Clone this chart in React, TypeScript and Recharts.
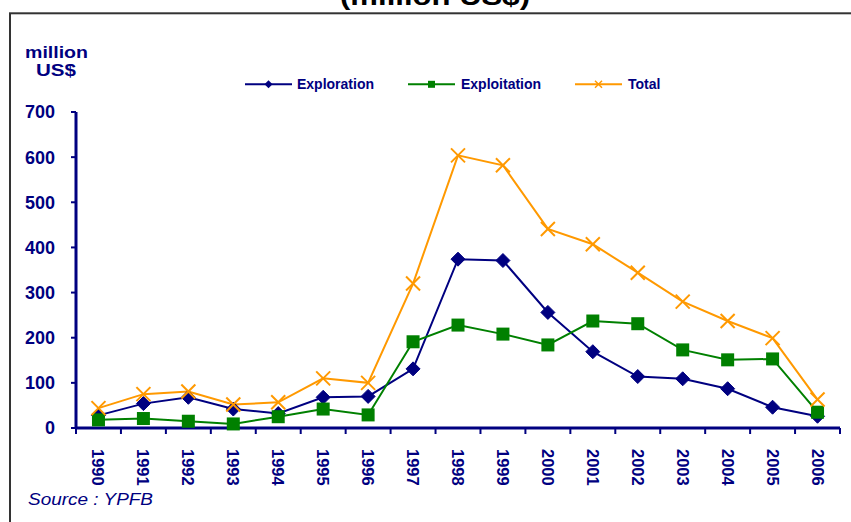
import React from 'react';
import { LineChart, Line, XAxis, YAxis } from 'recharts';

const years = ['1990', '1991', '1992', '1993', '1994', '1995', '1996', '1997', '1998', '1999', '2000', '2001', '2002', '2003', '2004', '2005', '2006'];
const exploration = [28, 54, 68, 42, 32, 68, 70, 131, 374, 371, 256, 169, 114, 109, 87, 46, 26];
const exploitation = [18, 21, 15, 9, 25, 42, 29, 191, 228, 208, 184, 237, 231, 173, 151, 153, 35];
const total = [44, 75, 81, 52, 57, 110, 100, 320, 604, 582, 441, 407, 344, 280, 237, 199, 63];
const yTicks = [0, 100, 200, 300, 400, 500, 600, 700];

const NAVY = '#000080';
const GREEN = '#008000';
const ORANGE = '#FF9900';
const FONT = "'Liberation Sans', Arial, Helvetica, sans-serif";

const data = years.map((year, i) => ({
  idx: i,
  year,
  exploration: exploration[i],
  exploitation: exploitation[i],
  total: total[i],
}));
const boundaryTicks = years.map((_, i) => i - 0.5).concat([years.length - 0.5]);
const labelTicks = years.map((_, i) => i);

const Diamond = (props: any) => {
  const { cx, cy, index } = props;
  if (cx == null || cy == null) return <g key={index} />;
  const r = 7;
  return (
    <polygon
      key={index}
      points={`${cx},${cy - r} ${cx + r},${cy} ${cx},${cy + r} ${cx - r},${cy}`}
      fill={NAVY}
      stroke={NAVY}
      strokeWidth={1}
    />
  );
};

const Square = (props: any) => {
  const { cx, cy, index } = props;
  if (cx == null || cy == null) return <g key={index} />;
  const r = 6.5;
  return <rect key={index} x={cx - r} y={cy - r} width={r * 2} height={r * 2} fill={GREEN} />;
};

const Cross = (props: any) => {
  const { cx, cy, index } = props;
  if (cx == null || cy == null) return <g key={index} />;
  const r = 7;
  return (
    <g key={index}>
      <line x1={cx - r} y1={cy - r} x2={cx + r} y2={cy + r} stroke={ORANGE} strokeWidth={2} />
      <line x1={cx - r} y1={cy + r} x2={cx + r} y2={cy - r} stroke={ORANGE} strokeWidth={2} />
    </g>
  );
};

const series = [
  { key: 'exploration', name: 'Exploration', color: NAVY, dot: Diamond, legendX: 245, textX: 297 },
  { key: 'exploitation', name: 'Exploitation', color: GREEN, dot: Square, legendX: 408, textX: 461 },
  { key: 'total', name: 'Total', color: ORANGE, dot: Cross, legendX: 575, textX: 628 },
];

const EmptyTick = () => <g />;

const YearTick = (props: any) => {
  const { x, y, payload } = props;
  const label = years[payload.value];
  if (label == null) return <g />;
  return (
    <text
      transform={`translate(${x - 6}, ${y + 1}) rotate(90)`}
      fontSize={16.5}
      fontWeight="bold"
      fontFamily={FONT}
      fill={NAVY}
      textAnchor="start"
    >
      {label}
    </text>
  );
};

const LegendMarker = ({ kind, x, y, color }: { kind: string; x: number; y: number; color: string }) => {
  if (kind === 'exploration') {
    const r = 4;
    return <polygon points={`${x},${y - r} ${x + r},${y} ${x},${y + r} ${x - r},${y}`} fill={color} />;
  }
  if (kind === 'exploitation') {
    return <rect x={x - 3.5} y={y - 3.5} width={7} height={7} fill={color} />;
  }
  const r = 3.5;
  return (
    <g>
      <line x1={x - r} y1={y - r} x2={x + r} y2={y + r} stroke={color} strokeWidth={1.5} />
      <line x1={x - r} y1={y + r} x2={x + r} y2={y - r} stroke={color} strokeWidth={1.5} />
    </g>
  );
};

export default function App() {
  return (
    <div style={{ position: 'absolute', left: 0, top: 0, width: 851, height: 522, background: '#fff', overflow: 'hidden' }}>
      <div style={{ position: 'absolute', left: 0, top: 0 }}>
        <LineChart width={851} height={522} data={data} margin={{ top: 112, right: 11, bottom: 24, left: 16 }}>
          <XAxis
            xAxisId={0}
            dataKey="idx"
            type="number"
            domain={[-0.5, 16.5]}
            ticks={boundaryTicks}
            interval={0}
            height={20}
            axisLine={{ stroke: NAVY, strokeWidth: 3 }}
            tickLine={{ stroke: NAVY, strokeWidth: 2 }}
            tickSize={6}
            tick={<EmptyTick />}
          />
          <XAxis
            xAxisId="lab"
            dataKey="idx"
            type="number"
            domain={[-0.5, 16.5]}
            ticks={labelTicks}
            interval={0}
            height={50}
            axisLine={false}
            tickLine={false}
            tickSize={0}
            tickMargin={0}
            tick={<YearTick />}
          />
          <YAxis
            domain={[0, 700]}
            ticks={yTicks}
            interval={0}
            width={60}
            axisLine={{ stroke: NAVY, strokeWidth: 3 }}
            tickLine={{ stroke: NAVY, strokeWidth: 2 }}
            tickSize={5}
            tickMargin={16}
            tick={{ fill: NAVY, fontSize: 18, fontWeight: 'bold', fontFamily: FONT }}
          />
          <Line
            xAxisId="lab"
            dataKey="total"
            stroke="none"
            dot={false}
            activeDot={false}
            legendType="none"
            isAnimationActive={false}
          />
          {series.map((s) => (
            <Line
              key={s.key}
              xAxisId={0}
              type="linear"
              dataKey={s.key}
              name={s.name}
              stroke={s.color}
              strokeWidth={2}
              dot={s.dot}
              activeDot={false}
              isAnimationActive={false}
            />
          ))}
        </LineChart>
      </div>
      <svg width={851} height={522} style={{ position: 'absolute', left: 0, top: 0, pointerEvents: 'none' }}>
        <rect x={10} y={13.3} width={900} height={600} fill="none" stroke="#333" strokeWidth={2} />
        <text x={435} y={5} fontSize={26} fontWeight="bold" fontFamily={FONT} fill="#000" textAnchor="middle" textLength={190} lengthAdjust="spacingAndGlyphs">
          (million US$)
        </text>
        <text x={56.5} y={58} fontSize={16} fontWeight="bold" fontFamily={FONT} fill={NAVY} textAnchor="middle" textLength={63} lengthAdjust="spacingAndGlyphs">
          million
        </text>
        <text x={56} y={75.5} fontSize={16} fontWeight="bold" fontFamily={FONT} fill={NAVY} textAnchor="middle" textLength={40} lengthAdjust="spacingAndGlyphs">
          US$
        </text>
        {series.map((s) => (
          <g key={s.key}>
            <line x1={s.legendX} y1={84.3} x2={s.legendX + 47} y2={84.3} stroke={s.color} strokeWidth={2} />
            <LegendMarker kind={s.key} x={s.legendX + 23.5} y={84.3} color={s.color} />
            <text x={s.textX} y={89.3} fontSize={14} fontWeight="bold" fontFamily={FONT} fill={NAVY}>
              {s.name}
            </text>
          </g>
        ))}
        <text x={28} y={505} fontSize={16.5} fontStyle="italic" fontFamily={FONT} fill={NAVY} textLength={125} lengthAdjust="spacingAndGlyphs">
          Source : YPFB
        </text>
      </svg>
    </div>
  );
}
